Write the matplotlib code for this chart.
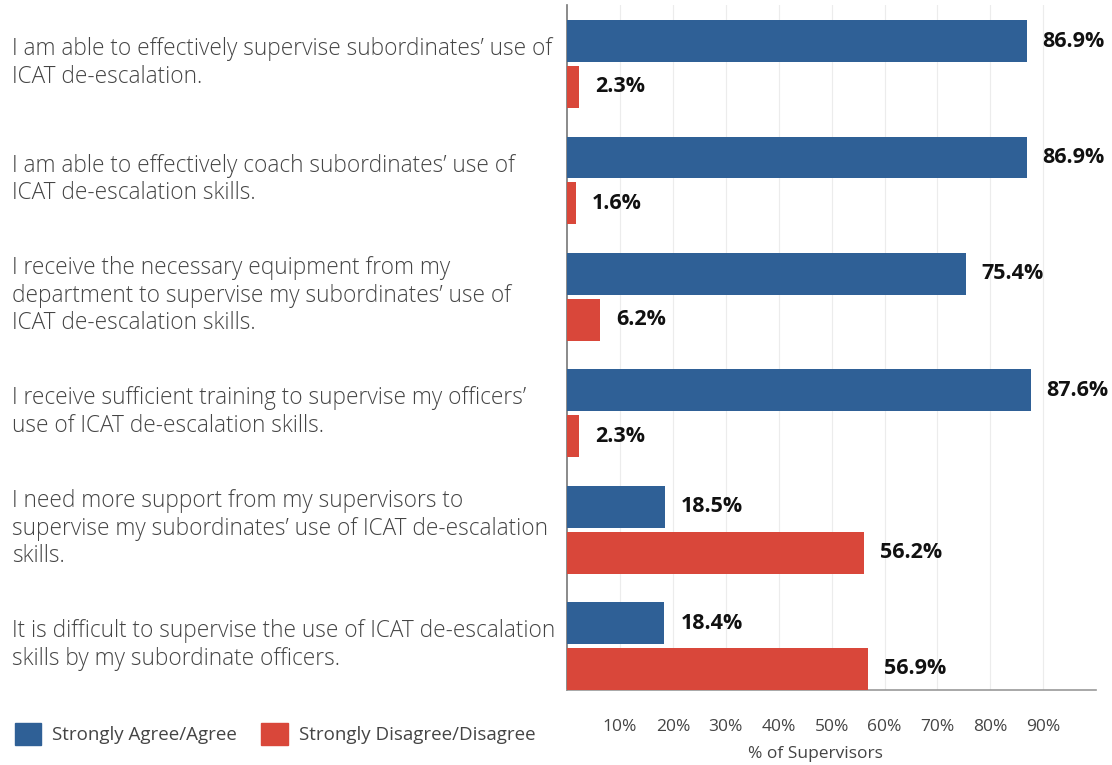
import matplotlib.pyplot as plt
import numpy as np
from matplotlib.patches import Patch

plt.rcParams['font.family'] = ['Open Sans', 'DejaVu Sans']

preguntas = [
    "I am able to effectively supervise subordinates\u2019 use of\nICAT de-escalation.",
    "I am able to effectively coach subordinates\u2019 use of\nICAT de-escalation skills.",
    "I receive the necessary equipment from my\ndepartment to supervise my subordinates\u2019 use of\nICAT de-escalation skills.",
    "I receive sufficient training to supervise my officers\u2019\nuse of ICAT de-escalation skills.",
    "I need more support from my supervisors to\nsupervise my subordinates\u2019 use of ICAT de-escalation\nskills.",
    "It is difficult to supervise the use of ICAT de-escalation\nskills by my subordinate officers.",
]
de_acuerdo = [86.9, 86.9, 75.4, 87.6, 18.5, 18.4]
en_desacuerdo = [2.3, 1.6, 6.2, 2.3, 56.2, 56.9]
ticks = [10, 20, 30, 40, 50, 60, 70, 80, 90]
tick_labels = [f"{t}%" for t in ticks]

azul = '#2f6096'
rojo = '#d9473a'
gris_texto = '#444444'

fig = plt.figure(figsize=(11.12, 7.65), dpi=100)
ax = fig.add_axes([0.51, 0.098, 0.4757, 0.8955])

y = np.arange(len(preguntas))
off = 0.197
alto = 0.36
ax.barh(y - off, de_acuerdo, height=alto, color=azul, zorder=3)
ax.barh(y + off, en_desacuerdo, height=alto, color=rojo, zorder=3)

for i in range(len(preguntas)):
    ax.text(de_acuerdo[i] + 3.0, y[i] - off, f"{de_acuerdo[i]:.1f}%", va='center', ha='left',
            fontsize=15.5, fontweight='bold', color='#111111')
    ax.text(en_desacuerdo[i] + 3.0, y[i] + off, f"{en_desacuerdo[i]:.1f}%", va='center', ha='left',
            fontsize=15.5, fontweight='bold', color='#111111')
    # etiqueta de la pregunta a la izquierda
    fig.text(0.011, 1 - (63 + i * 116.4) / 765, preguntas[i], ha='left', va='center',
             fontsize=16.3, fontweight='light', color=gris_texto, linespacing=1.2)

ax.set_xlim(0, 100)
ax.set_ylim(5.378, -0.507)
ax.set_yticks([])
ax.set_xticks(ticks)
ax.set_xticklabels(tick_labels, fontsize=12.5, color=gris_texto)
ax.tick_params(axis='x', length=0, pad=21)
ax.grid(axis='x', color='#ececec', linewidth=0.8, zorder=0)
for s in ['top', 'right']:
    ax.spines[s].set_visible(False)
ax.spines['left'].set_color('#777777')
ax.spines['bottom'].set_color('#999999')
ax.spines['left'].set_linewidth(1.2)
ax.spines['bottom'].set_linewidth(1.2)
ax.set_xlabel('% of Supervisors', fontsize=12.5, color=gris_texto)
ax.xaxis.set_label_coords(0.47, -0.082)

fig.legend(handles=[Patch(color=azul, label='Strongly Agree/Agree'),
                    Patch(color=rojo, label='Strongly Disagree/Disagree')],
           loc='center left', bbox_to_anchor=(-0.002, 1 - 734 / 765), ncol=2, frameon=False,
           fontsize=13.5, handlelength=1.4, handleheight=1.4, columnspacing=1.3,
           handletextpad=0.6, labelcolor=gris_texto)

plt.savefig('out.png', dpi=100)
plt.close()
